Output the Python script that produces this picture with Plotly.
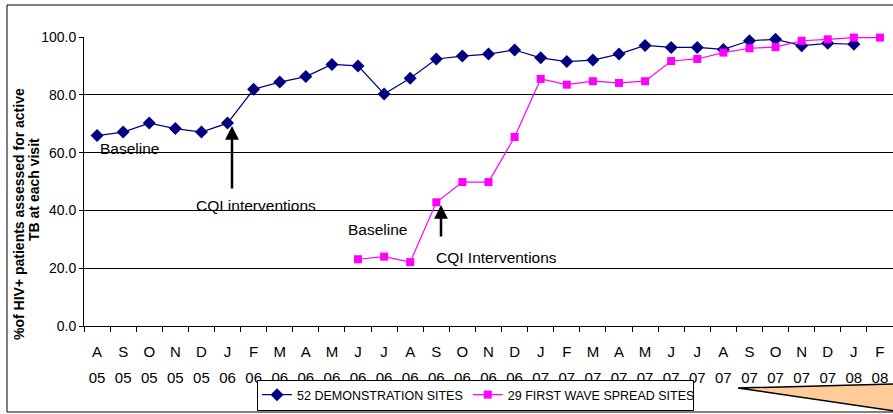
import plotly.graph_objects as go

W, H = 893, 414

months = ["A", "S", "O", "N", "D",
          "J", "F", "M", "A", "M", "J", "J", "A", "S", "O", "N", "D",
          "J", "F", "M", "A", "M", "J", "J", "A", "S", "O", "N", "D",
          "J", "F"]
years = ["05"] * 5 + ["06"] * 12 + ["07"] * 12 + ["08"] * 2
categories = [f"{m} {y} #{i}" for i, (m, y) in enumerate(zip(months, years))]

demo_sites = [65.9, 67.1, 70.2, 68.3, 67.1,
              70.2, 81.9, 84.4, 86.3, 90.5, 90.0, 80.3, 85.7, 92.4, 93.4, 94.1, 95.5,
              92.8, 91.5, 92.0, 94.1, 97.1, 96.4, 96.4, 95.7, 98.7, 99.2, 97.0, 97.8,
              97.5, None]
spread_sites = [None, None, None, None, None,
                None, None, None, None, None, 23.1, 24.0, 22.1, 42.8, 49.8, 49.8, 65.4,
                85.5, 83.5, 84.7, 84.1, 84.7, 91.7, 92.4, 94.6, 96.1, 96.5, 98.7, 99.2,
                99.8, 99.8]

FONT = "Liberation Sans, Arial, sans-serif"


def px(x):
    return x / W


def py(y):
    return 1 - y / H


fig = go.Figure()
fig.add_trace(go.Scatter(
    x=categories, y=demo_sites, name="52 DEMONSTRATION SITES",
    mode="lines+markers",
    line=dict(color="#000080", width=1.2),
    marker=dict(symbol="diamond", size=10, color="#000080"),
    cliponaxis=False,
))
fig.add_trace(go.Scatter(
    x=categories, y=spread_sites, name="29 FIRST WAVE SPREAD SITES",
    mode="lines+markers",
    line=dict(color="#FF00FF", width=1.2),
    marker=dict(symbol="square", size=8, color="#FF00FF"),
    cliponaxis=False,
))

n = len(categories)
xdom = [px(84), 1.0]
ydom = [py(326), py(37)]

fig.update_layout(
    template="none",
    width=W, height=H,
    margin=dict(l=0, r=0, t=0, b=0, autoexpand=False),
    paper_bgcolor="white", plot_bgcolor="white",
    font=dict(family=FONT, color="black"),
    xaxis=dict(
        type="category", categoryorder="array", categoryarray=categories,
        domain=xdom, range=[-0.5, n - 0.5], automargin=False,
        tickvals=categories, ticktext=months,
        tickson="boundaries", ticks="outside", ticklen=5, tickcolor="black",
        showline=True, linecolor="black", linewidth=1,
        showgrid=False, zeroline=False,
        tickfont=dict(size=15, family=FONT),
        ticklabelstandoff=12,
        anchor="y",
    ),
    xaxis2=dict(
        overlaying="x", domain=xdom, range=[-0.5, n - 0.5], automargin=False,
        tickvals=list(range(n)), ticktext=years,
        ticks="", showline=False, showgrid=False, zeroline=False,
        tickfont=dict(size=15, family=FONT),
        ticklabelstandoff=41,
        anchor="y", side="bottom",
    ),
    yaxis=dict(
        domain=ydom, range=[0, 100], dtick=20, tickformat=".1f", automargin=False,
        ticks="outside", ticklen=4, tickcolor="black",
        showline=True, linecolor="black", linewidth=1,
        showgrid=True, gridcolor="black", gridwidth=1, zeroline=False,
        tickfont=dict(size=14, family=FONT),
    ),
    showlegend=True,
    legend=dict(
        orientation="h", x=px(257), y=py(395), xanchor="left", yanchor="middle",
        borderwidth=0, bgcolor="rgba(0,0,0,0)",
        font=dict(size=12.5, family=FONT),
        traceorder="normal",
    ),
)

# invisible trace to keep xaxis2 active
fig.add_trace(go.Scatter(x=[0], y=[None], xaxis="x2", showlegend=False,
                         hoverinfo="skip"))

shapes = [
    dict(type="rect", xref="paper", yref="paper", x0=px(7), x1=px(900),
         y0=py(412), y1=py(5), line=dict(color="black", width=1), layer="below"),
    dict(type="rect", xref="paper", yref="paper", x0=px(257.5), x1=px(693.5),
         y0=py(410.5), y1=py(380.5), fillcolor="white",
         line=dict(color="black", width=1), layer="above"),
    dict(type="path", xref="paper", yref="paper",
         path=f"M {px(738)},{py(388)} L {px(895)},{py(384)} L {px(895)},{py(411)} Z",
         fillcolor="#FFCC99", line=dict(color="black", width=1.5)),
]
fig.update_layout(shapes=shapes)

ann = [
    dict(text="%of HIV+ patients assessed for active", x=px(19), y=py(214),
         textangle=-90, font=dict(size=14, family=FONT, color="black", weight="bold")),
    dict(text="TB at each visit", x=px(34), y=py(190),
         textangle=-90, font=dict(size=14, family=FONT, color="black", weight="bold")),
    dict(text="Baseline", x=px(129), y=py(148), font=dict(size=15.5, family=FONT)),
    dict(text="CQI interventions", x=px(256), y=py(205), font=dict(size=15.5, family=FONT)),
    dict(text="Baseline", x=px(377), y=py(229), font=dict(size=15.5, family=FONT)),
    dict(text="CQI Interventions", x=px(496), y=py(257), font=dict(size=15.5, family=FONT)),
]
for a in ann:
    a.update(xref="paper", yref="paper", showarrow=False, xanchor="center", yanchor="middle")

arrows = [
    ((232, 126), (232, 190)),
    ((441, 205), (441, 238)),
]
for (hx, hy), (tx, ty) in arrows:
    ann.append(dict(text="", xref="paper", yref="paper", x=px(hx), y=py(hy),
                    axref="pixel", ayref="pixel", ax=tx - hx, ay=ty - hy,
                    showarrow=True, arrowhead=2, arrowsize=1.1, arrowwidth=2.5,
                    arrowcolor="black", standoff=0, startstandoff=0))
fig.update_layout(annotations=ann)

fig.write_html("out.html")
